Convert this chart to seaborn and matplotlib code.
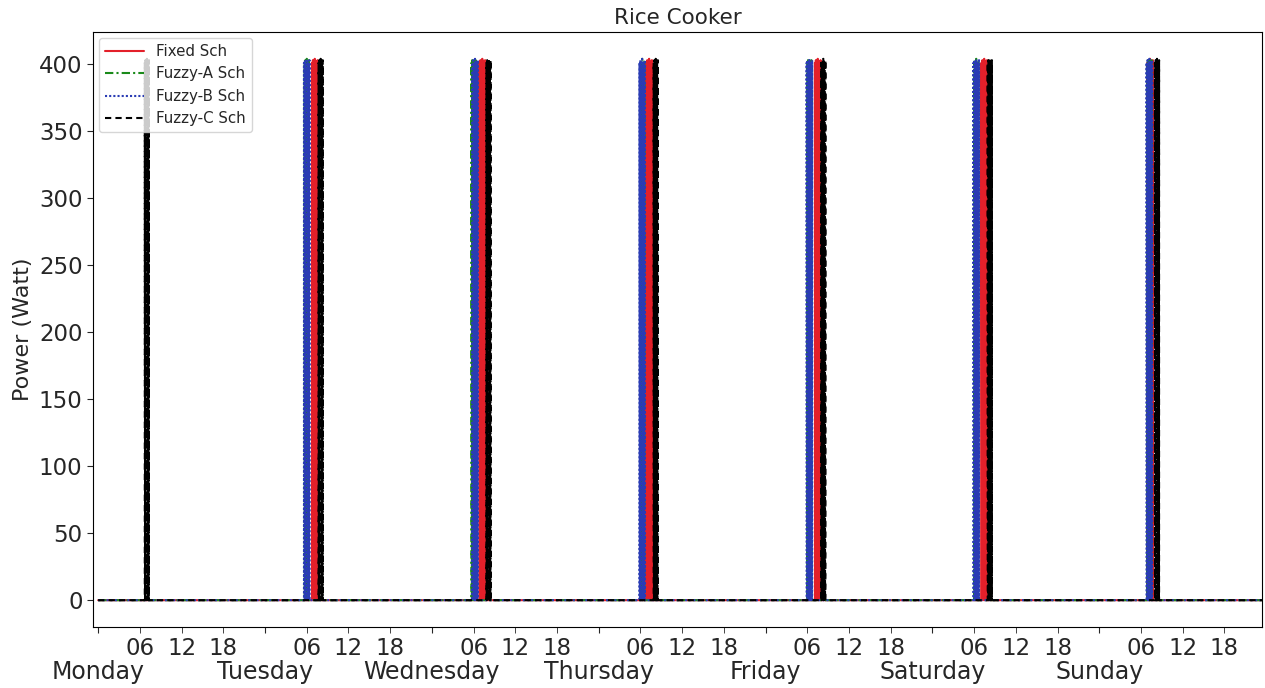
import numpy as np
import pandas as pd
import matplotlib
matplotlib.use("Agg")
import matplotlib.pyplot as plt
import seaborn as sns

# Weekly schedule of a rice cooker under four scheduling strategies
days = ["Monday", "Tuesday", "Wednesday", "Thursday", "Friday", "Saturday", "Sunday"]
hour_ticks = [6, 12, 18]
hour_labels = ["06", "12", "18"]

schedules = ["Fixed Sch", "Fuzzy-A Sch", "Fuzzy-B Sch", "Fuzzy-C Sch"]

# Start hour of the cooking cycle on each day (Mon..Sun); None = no cycle that day
fixed_start = [None, 6.75, 6.85, 6.85, 7.1, 7.05, 6.9]
fuzzy_a_start = [None, 5.7, 5.7, 5.95, 6.0, 6.0, 6.9]
fuzzy_b_start = [None, 5.6, 5.8, 5.85, 5.9, 5.9, 6.8]
fuzzy_c_start = [6.7, 7.7, 7.85, 7.9, 8.0, 7.95, 8.0]

# Duration of one cooking cycle (hours)
fixed_dur = 0.8
fuzzy_a_dur = 0.6
fuzzy_b_dur = 0.8
fuzzy_c_dur = 0.6

# Power readings (W) sampled across a cooking cycle: heater switching on and off
cook_cycle = [401, 0, 403, 0, 400, 0, 404, 0, 402, 0, 400, 0, 403]

week_end = 167.75

starts = {"Fixed Sch": fixed_start, "Fuzzy-A Sch": fuzzy_a_start,
          "Fuzzy-B Sch": fuzzy_b_start, "Fuzzy-C Sch": fuzzy_c_start}
durations = {"Fixed Sch": fixed_dur, "Fuzzy-A Sch": fuzzy_a_dur,
             "Fuzzy-B Sch": fuzzy_b_dur, "Fuzzy-C Sch": fuzzy_c_dur}

rows = []
for name in schedules:
    t_list, p_list = [0.0], [0.0]
    for d, h in enumerate(starts[name]):
        if h is None:
            continue
        t0 = d * 24 + h
        dur = durations[name]
        t_list.append(t0)
        p_list.append(0.0)
        n = len(cook_cycle)
        for i, v in enumerate(cook_cycle):
            t_list.append(t0 + dur * i / (n - 1))
            p_list.append(v)
        t_list.append(t0 + dur)
        p_list.append(0.0)
    t_list.append(week_end)
    p_list.append(0.0)
    for t, p in zip(t_list, p_list):
        rows.append({"hour": t, "power": p, "schedule": name})
df = pd.DataFrame(rows)

palette = {"Fixed Sch": "#e3202a", "Fuzzy-A Sch": "#1a8a1a",
           "Fuzzy-B Sch": "#2a3cb4", "Fuzzy-C Sch": "#000000"}
dashes = {"Fixed Sch": "", "Fuzzy-A Sch": (4, 1.5, 1, 1.5),
          "Fuzzy-B Sch": (1, 1), "Fuzzy-C Sch": (3, 2)}

sns.set_style("white")
plt.rcParams["font.family"] = ["DejaVu Sans"]

fig = plt.figure(figsize=(12.65, 6.88), dpi=100)
ax = fig.add_axes([0.0735, 0.0887, 0.9241, 0.8648])

sns.lineplot(data=df, x="hour", y="power", hue="schedule", style="schedule",
             hue_order=schedules, style_order=schedules, palette=palette,
             dashes=dashes, estimator=None, sort=False, linewidth=1.5, ax=ax)

ax.set_xlim(-0.75, 167.4)
ax.set_ylim(-20, 424)
ax.set_yticks(np.arange(0, 401, 50))
ax.tick_params(axis="y", labelsize=16.5, left=True, length=4)

major = [d * 24 for d in range(len(days))]
minor = [d * 24 + h for d in range(len(days)) for h in hour_ticks]
ax.set_xticks(major)
ax.set_xticklabels(days, fontsize=17)
ax.set_xticks(minor, minor=True)
ax.set_xticklabels(hour_labels * len(days), minor=True, fontsize=16.5)
ax.tick_params(axis="x", which="major", bottom=True, length=4, pad=20)
ax.tick_params(axis="x", which="minor", bottom=True, length=4, pad=3)

ax.set_xlabel("")
ax.set_ylabel("Power (Watt)", fontsize=16)
ax.set_title("Rice Cooker", fontsize=15.5)

for s in ax.spines.values():
    s.set_color("black")
    s.set_linewidth(0.8)

sns.move_legend(ax, "upper left", title=None, fontsize=10.8, frameon=True,
                handlelength=2.6, borderaxespad=0.4)

fig.savefig("out.png", dpi=100)
